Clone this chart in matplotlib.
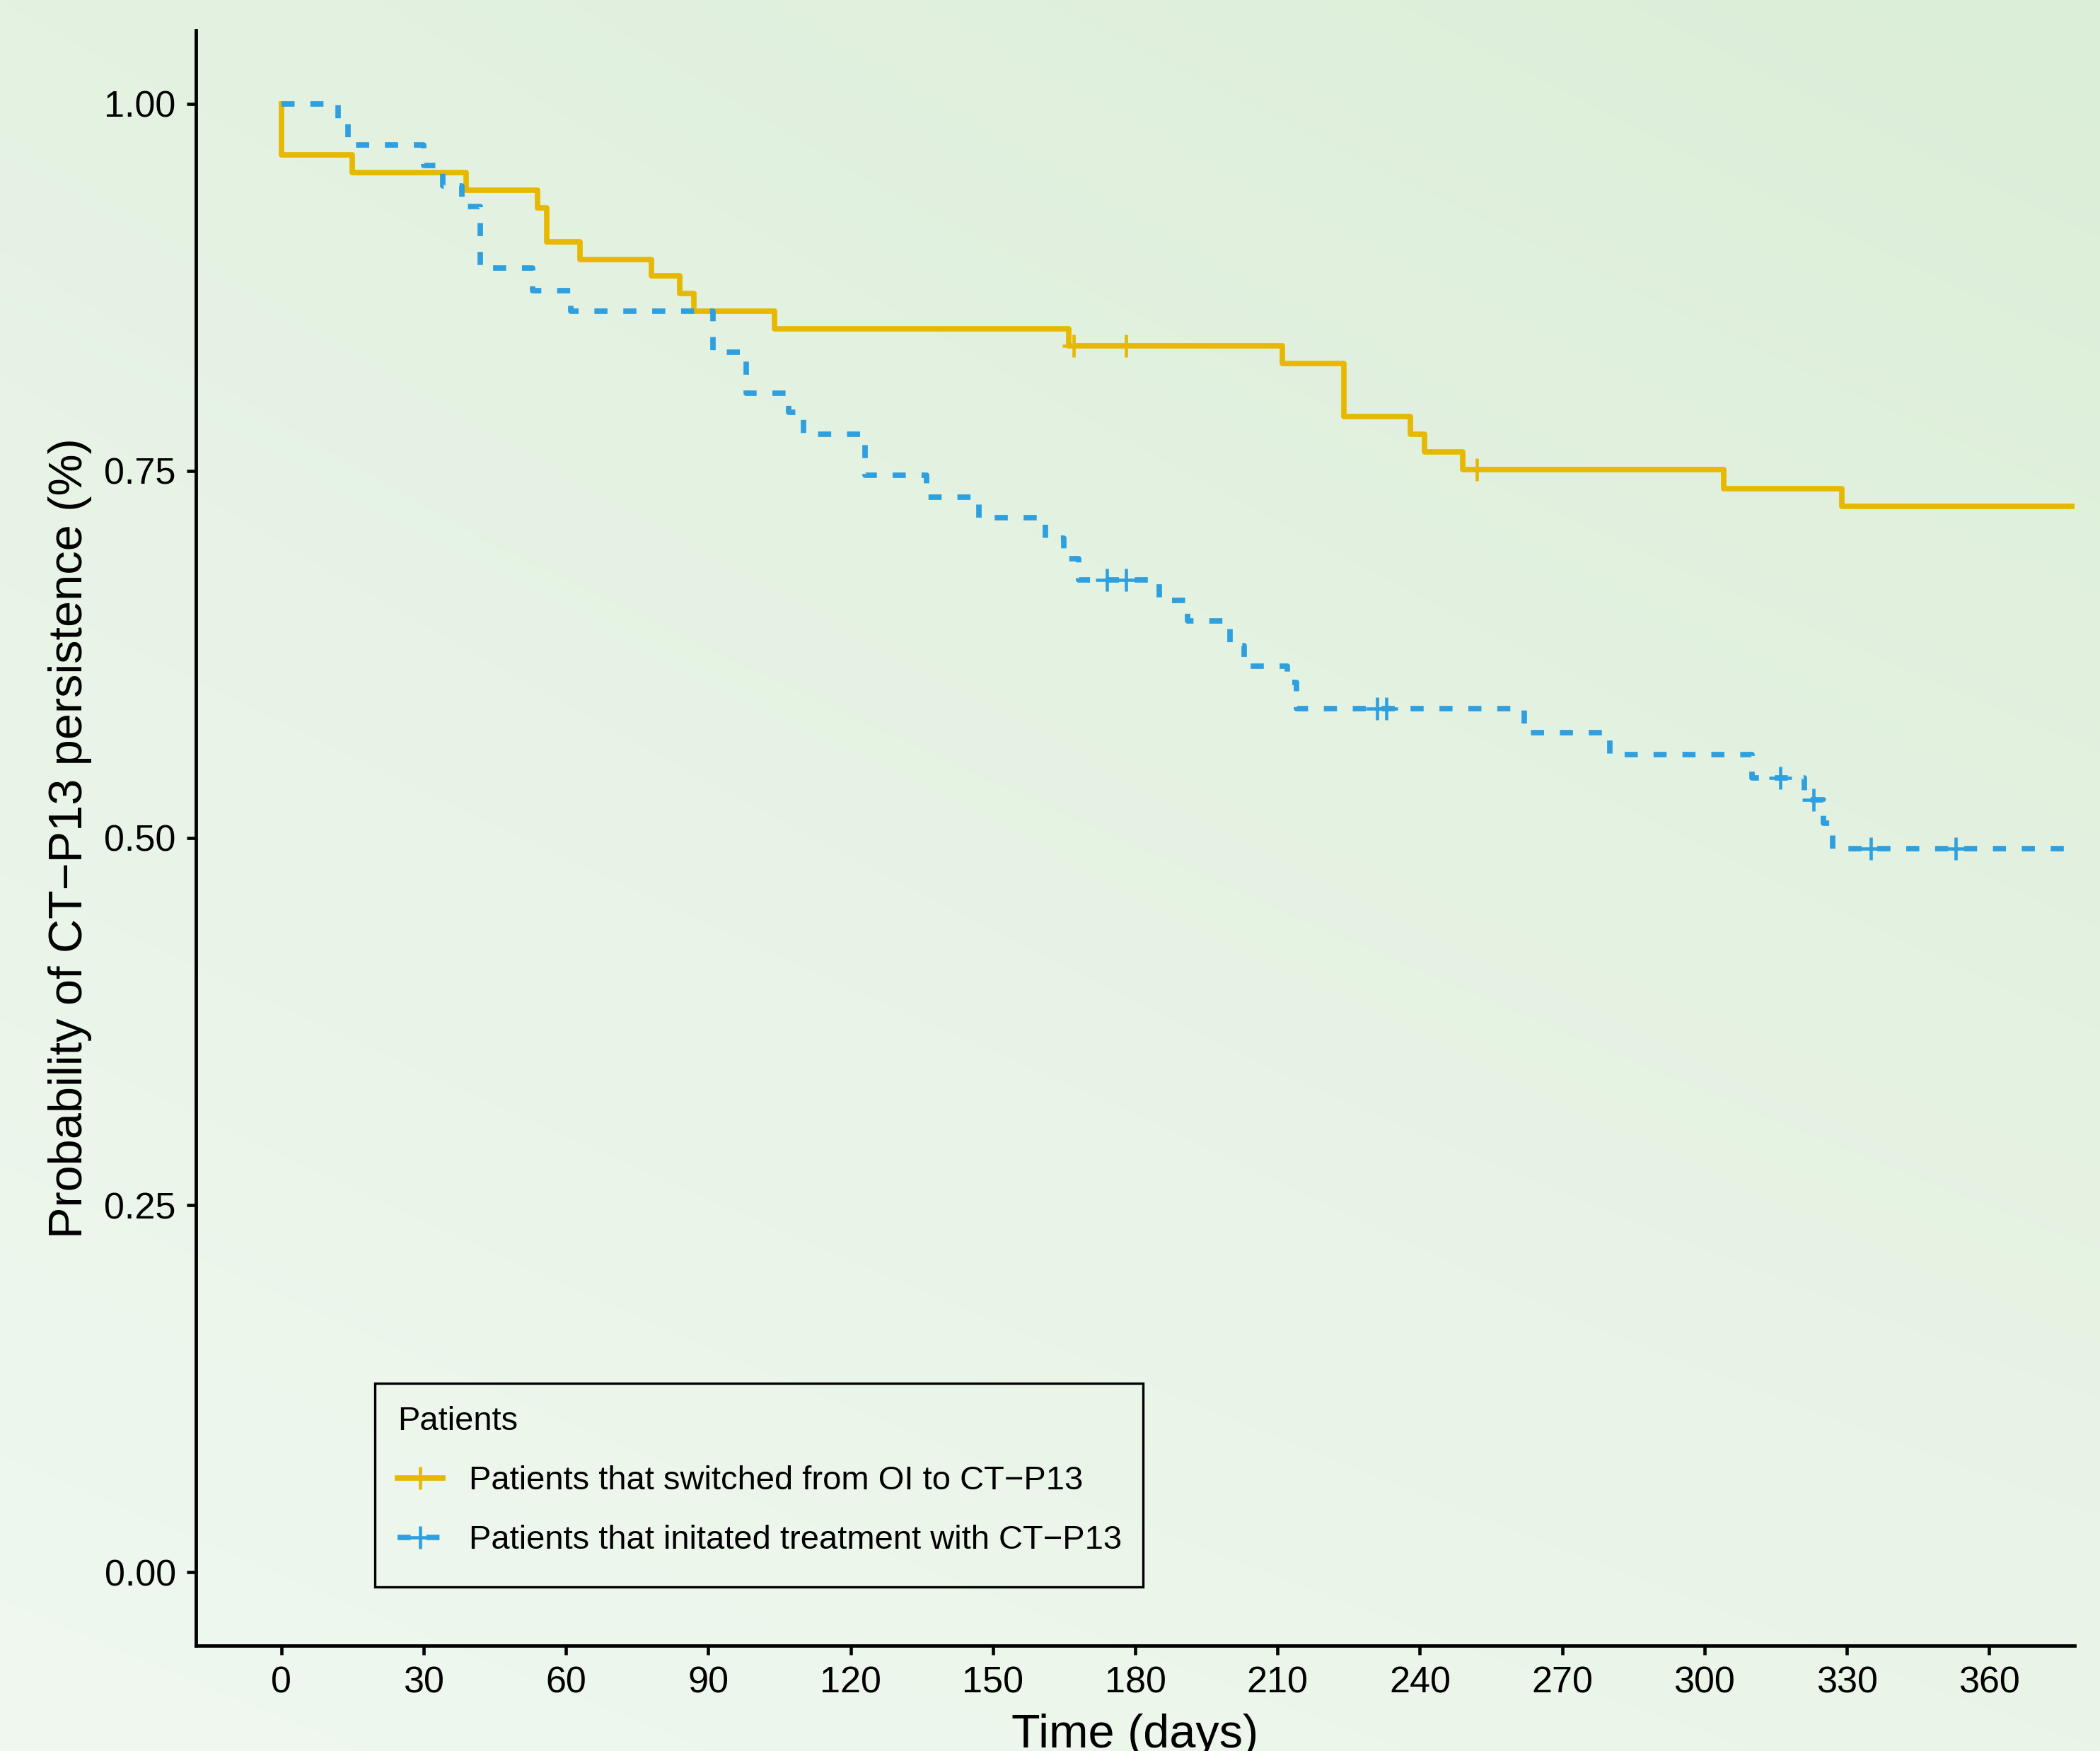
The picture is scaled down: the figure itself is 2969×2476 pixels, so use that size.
import numpy as np
import matplotlib
matplotlib.use('Agg')
import matplotlib.pyplot as plt
from matplotlib.lines import Line2D
from matplotlib.patches import Rectangle

plt.rcParams['font.family'] = ['Liberation Sans', 'DejaVu Sans']

# Kaplan-Meier curves (time in days, survival probability)
sw_time = [0, 0, 15, 39, 54, 56, 63, 78, 84, 87, 104, 166, 211, 224, 238, 241, 249, 304, 329, 378]
sw_surv = [1.0, 0.965, 0.953, 0.941, 0.929, 0.906, 0.894, 0.883, 0.871, 0.859, 0.847,
           0.835, 0.823, 0.787, 0.775, 0.763, 0.751, 0.738, 0.726, 0.726]
sw_censor = [167, 178, 252]

in_time = [0, 12, 14, 30, 34, 38, 42, 53, 61, 91, 98, 107, 110, 123, 136, 147, 161, 165, 168,
           185, 191, 200, 203, 212, 214, 262, 280, 310, 321, 325, 327, 378]
in_surv = [1.0, 0.988, 0.972, 0.958, 0.944, 0.930, 0.888, 0.873, 0.859, 0.831, 0.803, 0.790,
           0.775, 0.747, 0.732, 0.718, 0.704, 0.690, 0.676, 0.662, 0.648, 0.631, 0.617, 0.606,
           0.588, 0.572, 0.557, 0.541, 0.526, 0.510, 0.493, 0.493]
in_censor = [174, 178, 231, 233, 316, 323, 335, 353]

labels = ['Patients that switched from OI to CT\u2212P13',
          'Patients that initated treatment with CT\u2212P13']
colors = ['#E7B800', '#2E9FDF']
x_ticks = [0, 30, 60, 90, 120, 150, 180, 210, 240, 270, 300, 330, 360]
y_ticks = [0, 0.25, 0.5, 0.75, 1.0]


def surv_at(times, surv, t):
    idx = np.searchsorted(times, t, side='right') - 1
    return np.array(surv)[idx]


W, H = 2969, 2476
fig = plt.figure(figsize=(W / 300, H / 300), dpi=300)

# soft greenish gradient background
bg = fig.add_axes([0, 0, 1, 1], zorder=-10)
bg.axis('off')
tl = np.array([228, 242, 226]) / 255
tr = np.array([219, 238, 215]) / 255
bl = np.array([240, 248, 240]) / 255
br = np.array([234, 245, 232]) / 255
u = np.linspace(0, 1, 200)[None, :, None]
v = np.linspace(0, 1, 200)[:, None, None]
grad = tl * (1 - u) * (1 - v) + tr * u * (1 - v) + bl * (1 - u) * v + br * u * v
bg.imshow(grad, extent=[0, 1, 0, 1], aspect='auto', interpolation='bilinear')
bg.set_xlim(0, 1)
bg.set_ylim(0, 1)

ax = fig.add_axes([277 / W, 1 - 2327 / H, (2933 - 277) / W, (2327 - 43) / H])
ax.patch.set_alpha(0)

lw = 1.85
ax.step(sw_time, sw_surv, where='post', color=colors[0], lw=lw, solid_joinstyle='round')
ax.step(in_time, in_surv, where='post', color=colors[1], lw=lw, dashes=(2.4, 2.9))
ax.plot(sw_censor, surv_at(sw_time, sw_surv, sw_censor), ls='none', marker='+',
        ms=7.5, mew=1.1, color=colors[0])
ax.plot(in_censor, surv_at(in_time, in_surv, in_censor), ls='none', marker='+',
        ms=7.5, mew=1.1, color=colors[1])

ax.set_xlim(-18, 378)
ax.set_ylim(-0.05, 1.05)
ax.set_xticks(x_ticks)
ax.set_yticks(y_ticks)
ax.set_yticklabels(['%.2f' % t for t in y_ticks])
for s in ['top', 'right']:
    ax.spines[s].set_visible(False)
for s in ['left', 'bottom']:
    ax.spines[s].set_linewidth(1.15)
ax.tick_params(axis='both', length=3.2, width=1.1, labelsize=12.5, pad=3.6, colors='black')

ax.set_xlabel('Time (days)', fontsize=16, labelpad=4.5)
ax.set_ylabel('Probability of CT\u2212P13 persistence (%)', fontsize=16, labelpad=4)

# legend frame drawn separately, content placed inside
fig.patches.append(Rectangle((530 / W, 1 - 2244 / H), (1616 - 530) / W, (2244 - 1956) / H,
                             transform=fig.transFigure, fill=False, ec='black', lw=0.8))
handles = [Line2D([], [], color=colors[0], lw=lw, marker='+', ms=7.5, mew=1.1),
           Line2D([], [], color=colors[1], lw=lw, marker='+', ms=7.5, mew=1.1, dashes=(2.4, 2.9))]
leg = fig.legend(handles, labels, title='Patients', loc='upper left',
                 bbox_to_anchor=(562 / W, 1 - 1988 / H), frameon=False, fontsize=11.3,
                 title_fontsize=11.3, borderpad=0, borderaxespad=0, handlelength=1.35,
                 handletextpad=0.8, labelspacing=0.85, numpoints=1, alignment='left')

fig.savefig('out.png', dpi=300)
